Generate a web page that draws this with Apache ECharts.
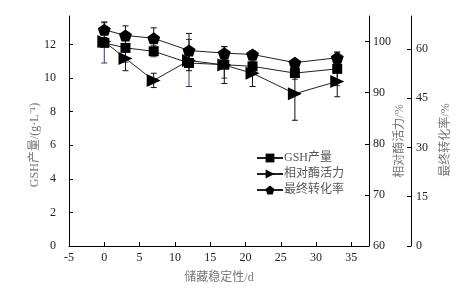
<!DOCTYPE html>
<html>
<head>
<meta charset="utf-8">
<script src="https://cdn.jsdelivr.net/npm/echarts@6/dist/echarts.min.js"></script>
<style>
  html, body { margin: 0; padding: 0; background: #fff; }
  #chart { width: 476px; height: 290px; }
</style>
</head>
<body>
<div id="chart"></div>
<script>
// storage days
const days = [0, 3, 7, 12, 17, 21, 27, 33];
// GSH yield, g/L (left axis)
const gsh = [12.1, 11.8, 11.6, 10.9, 10.8, 10.7, 10.3, 10.55];
const gshErr = [1.2, 0.85, 0.33, 1.4, 0.8, 0.3, 0.37, 1.0];
// relative enzyme activity, % (right axis 1)
const enzyme = [100.0, 96.7, 92.4, 96.3, 95.4, 93.8, 89.8, 92.2];
const enzymeErr = [0.8, 2.4, 1.4, 2.0, 3.6, 2.6, 5.2, 3.0];
// final conversion rate, % (right axis 2)
const conversion = [65.8, 64.1, 63.2, 59.5, 58.7, 58.3, 55.8, 57.3];
const conversionErr = [2.4, 2.9, 3.2, 5.2, 2.0, 1.0, 1.0, 1.7];

const names = ['GSH产量', '相对酶活力', '最终转化率'];

const FONT = '"Liberation Serif", "Noto Sans CJK SC", serif';
const pentagon = 'path://M50,0 L97.6,34.5 L79.4,90.5 L20.6,90.5 L2.4,34.5 Z';
const triRight = 'path://M0,0 L100,50 L0,100 Z';

const pairs = (ys) => days.map((d, i) => [d, ys[i]]);
const errs = (ys, es) => days.map((d, i) => [d, ys[i] - es[i], ys[i] + es[i]]);

function errorSeries(name, yIdx, data, color) {
  return {
    name: name,
    type: 'custom',
    yAxisIndex: yIdx,
    z: 1,
    silent: true,
    data: data,
    renderItem: function (params, api) {
      const x = api.value(0);
      const lo = api.coord([x, api.value(1)]);
      const hi = api.coord([x, api.value(2)]);
      const w = 3;
      const style = { stroke: color, lineWidth: 1 };
      return {
        type: 'group',
        children: [
          { type: 'line', shape: { x1: lo[0], y1: lo[1], x2: hi[0], y2: hi[1] }, style: style },
          { type: 'line', shape: { x1: lo[0] - w, y1: lo[1], x2: lo[0] + w, y2: lo[1] }, style: style },
          { type: 'line', shape: { x1: hi[0] - w, y1: hi[1], x2: hi[0] + w, y2: hi[1] }, style: style }
        ]
      };
    }
  };
}

function lineSeries(name, yIdx, ys, symbol, size) {
  return {
    name: name,
    type: 'line',
    yAxisIndex: yIdx,
    z: 3,
    data: pairs(ys),
    symbol: symbol,
    symbolSize: size,
    showAllSymbol: true,
    lineStyle: { color: '#222', width: 1 },
    itemStyle: { color: '#000' },
    emphasis: { disabled: true }
  };
}

const axisCommon = {
  axisLine: { show: true, onZero: false, lineStyle: { color: '#000', width: 1 } },
  axisTick: { show: true, inside: true, length: 4, lineStyle: { color: '#000' } },
  splitLine: { show: false },
  nameLocation: 'middle',
  nameRotate: 90,
  nameMoveOverlap: false
};

// vertical names sit a little below the middle of the axis
const nameStyle = (shift) => ({
  fontFamily: FONT, fontSize: 12, color: '#777', padding: [0, shift, 0, 0]
});

const chart = echarts.init(document.getElementById('chart'));
chart.setOption({
  animation: false,
  backgroundColor: '#fff',
  grid: { left: 69, right: 107, top: 16, bottom: 44 },
  legend: {
    data: names,
    orient: 'vertical',
    left: 251,
    top: 147,
    itemWidth: 26,
    itemHeight: 11,
    itemGap: 4,
    textStyle: { fontFamily: FONT, fontSize: 12, color: '#555', padding: [0, 0, 0, -4] }
  },
  xAxis: {
    type: 'value',
    min: -5,
    max: 37.5,
    interval: 5,
    name: '储藏稳定性/d',
    nameLocation: 'middle',
    nameGap: 26,
    nameMoveOverlap: false,
    nameTextStyle: { fontFamily: FONT, fontSize: 12, color: '#777' },
    axisLine: { show: true, onZero: false, lineStyle: { color: '#000' } },
    axisTick: { show: true, inside: true, length: 4, lineStyle: { color: '#000' } },
    axisLabel: { showMaxLabel: false, margin: 6, fontFamily: FONT, fontSize: 12, color: '#222' },
    splitLine: { show: false }
  },
  yAxis: [
    Object.assign({}, axisCommon, {
      type: 'value', position: 'left', min: 0, max: 13.7, interval: 2,
      name: 'GSH产量/(g·L⁻¹)', nameGap: 28, nameTextStyle: nameStyle(28),
      axisLabel: { showMaxLabel: false, margin: 13, fontFamily: FONT, fontSize: 12, color: '#222' }
    }),
    Object.assign({}, axisCommon, {
      type: 'value', position: 'right', min: 60, max: 105, interval: 10,
      name: '相对酶活力/%', nameGap: 25, nameTextStyle: nameStyle(20),
      axisLabel: { showMaxLabel: false, margin: 4, fontFamily: FONT, fontSize: 12, color: '#222' }
    }),
    Object.assign({}, axisCommon, {
      type: 'value', position: 'right', offset: 42, min: 0, max: 70, interval: 15,
      name: '最终转化率/%', nameGap: 29, nameTextStyle: nameStyle(18),
      axisLabel: { showMaxLabel: false, margin: 5, fontFamily: FONT, fontSize: 12, color: '#222' }
    })
  ],
  series: [
    errorSeries('err1', 0, errs(gsh, gshErr), '#2b3f6b'),
    errorSeries('err2', 1, errs(enzyme, enzymeErr), '#111'),
    errorSeries('err3', 2, errs(conversion, conversionErr), '#111'),
    lineSeries(names[0], 0, gsh, 'rect', 10),
    lineSeries(names[1], 1, enzyme, triRight, [14, 13]),
    lineSeries(names[2], 2, conversion, pentagon, [13, 12])
  ]
});
</script>
</body>
</html>
